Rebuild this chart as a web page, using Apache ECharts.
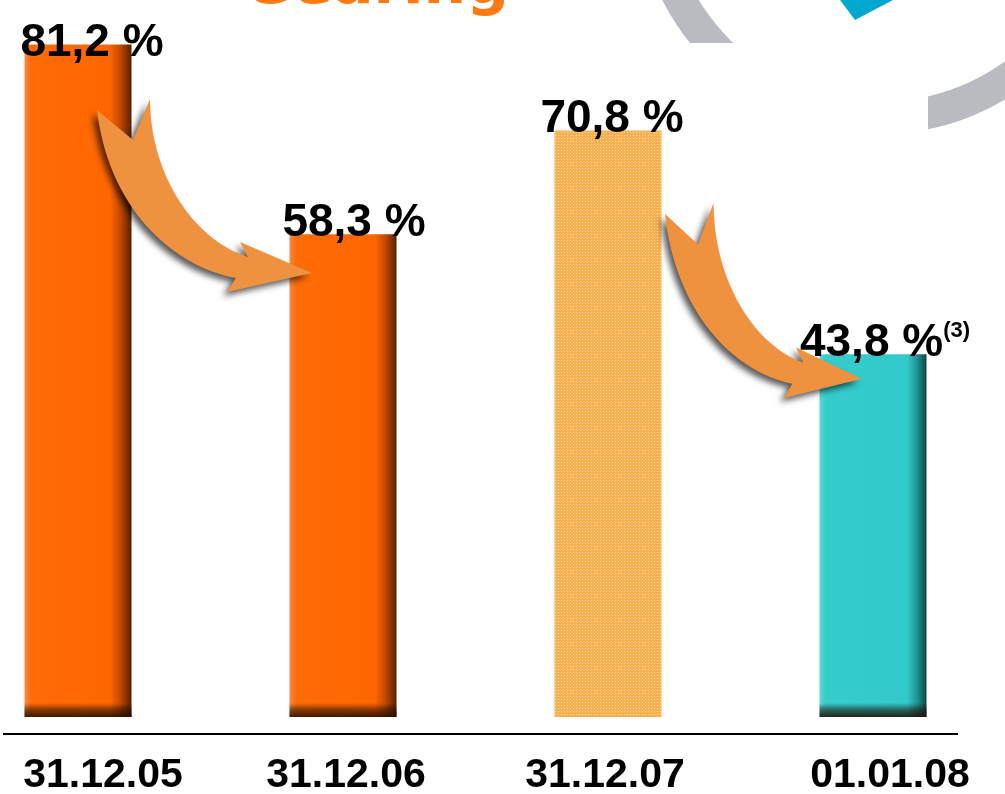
<!DOCTYPE html>
<html>
<head>
<meta charset="utf-8">
<script src="https://cdn.jsdelivr.net/npm/echarts@6/dist/echarts.min.js"></script>
<style>
  html, body { margin: 0; padding: 0; background: #fff; }
  #chart { width: 1005px; height: 794px; }
</style>
</head>
<body>
<div id="chart"></div>
<script>
// ---- data ----
const categories = ['31.12.05', '31.12.06', '31.12.07', '01.01.08'];
const gearing = [81.2, 58.3, 70.8, 43.8];
const notes = ['', '', '', '(3)'];
const titleText = 'Gearing';

// ---- styles ----
const FONT = '"Liberation Sans", Arial, sans-serif';
const orangeFill = new echarts.graphic.LinearGradient(0, 0, 1, 0, [
  { offset: 0, color: '#F88C4A' },
  { offset: 0.06, color: '#FF6B08' },
  { offset: 0.8, color: '#FF6600' },
  { offset: 0.9, color: '#C04800' },
  { offset: 1, color: '#552000' }
]);
const tealFill = new echarts.graphic.LinearGradient(0, 0, 1, 0, [
  { offset: 0, color: '#5ED8D8' },
  { offset: 0.06, color: '#35CCCC' },
  { offset: 0.82, color: '#31C9C9' },
  { offset: 0.92, color: '#1F8C8C' },
  { offset: 1, color: '#0E4545' }
]);
const patternStyle = {
  color: '#F9B04E',
  decal: {
    symbol: 'rect',
    symbolSize: 1,
    color: 'rgba(255,255,255,0.6)',
    dashArrayX: [1, 2],
    dashArrayY: [1, 2],
    rotation: 0
  }
};
const itemStyles = [
  { color: orangeFill },
  { color: orangeFill },
  patternStyle,
  { color: tealFill }
];
const labelOffsets = [[14, 10], [11, 0], [4, 0], [12, 0]];
const axisLabelPads = [[0, 0, 0, 50], [0, 0, 0, 6], [0, 6, 0, 0], [0, 0, 0, 34]];

function fmt(v) { return v.toFixed(1).replace('.', ',') + ' %'; }

const mainData = gearing.map((v, i) => ({
  value: v,
  itemStyle: itemStyles[i],
  label: { offset: labelOffsets[i] }
}));
const shadeData = gearing.map((v, i) => ({
  value: v,
  itemStyle: i === 2 ? { color: 'rgba(0,0,0,0)' } : {
    color: new echarts.graphic.LinearGradient(0, 703, 0, 717, [
      { offset: 0, color: 'rgba(30,10,0,0)' },
      { offset: 0.5, color: 'rgba(30,10,0,0.55)' },
      { offset: 1, color: 'rgba(30,10,0,0.85)' }
    ], true)
  }
}));

const arrowPath = 'M97 110 L133 140 L150 99 C150 170 190 238 248 257 L240 242 L312 273 L227 292 L236 278 C170 266 108 205 97 110 Z';
echarts.graphic.registerShape('curvedArrow', echarts.graphic.extendPath(arrowPath, {}));
const arrowStyle = {
  fill: '#EE9240',
  shadowBlur: 6,
  shadowColor: 'rgba(0,0,0,0.65)',
  shadowOffsetX: -4,
  shadowOffsetY: 4
};

const chart = echarts.init(document.getElementById('chart'), null, { renderer: 'canvas' });
chart.setOption({
  animation: false,
  backgroundColor: '#fff',
  grid: { left: -54.5, width: 1060, top: 13, bottom: 77, containLabel: false, outerBoundsMode: 'none' },
  xAxis: {
    type: 'category',
    z: 20,
    data: categories.map((c, i) => ({ value: c, textStyle: { padding: axisLabelPads[i] } })),
    axisLine: { show: false },
    axisTick: { show: false },
    axisLabel: {
      interval: 0,
      hideOverlap: false,
      margin: 38,
      fontFamily: FONT,
      fontWeight: 'bold',
      fontSize: 41,
      color: '#000'
    }
  },
  yAxis: {
    type: 'value',
    min: 0,
    max: 85,
    show: false,
    splitLine: { show: false }
  },
  graphic: [
    { type: 'ring', z: 0, shape: { cx: 880, cy: -110, r: 244, r0: 212 }, style: { fill: '#B9BBC1' } },
    { type: 'polygon', z: 0, shape: { points: [[840, 0], [893, 0], [855, 20]] }, style: { fill: '#00A8CF' } },
    { type: 'rect', z: 1, shape: { x: 0, y: 43, width: 928, height: 760 }, style: { fill: '#fff' } },
    { type: 'text', z: 10, x: 243, y: -43, style: {
        text: titleText, fill: '#FF7A10', font: 'bold 60px "DejaVu Sans", sans-serif'
    } },
    { type: 'line', z: 10, shape: { x1: 3, y1: 734, x2: 958, y2: 734 }, style: { stroke: '#000', lineWidth: 2 } },
    { type: 'curvedArrow', z: 100, style: arrowStyle },
    { type: 'curvedArrow', z: 100, originX: 97, originY: 99,
      scaleX: 0.916, scaleY: 1.01, x: 568, y: 104, style: arrowStyle }
  ],
  series: [
    {
      type: 'bar',
      barWidth: 107,
      data: mainData,
      z: 2,
      label: {
        show: true,
        position: 'top',
        distance: -12,
        formatter: p => notes[p.dataIndex]
          ? '{v|' + fmt(p.value) + '}{s|' + notes[p.dataIndex] + '}'
          : '{v|' + fmt(p.value) + '}',
        rich: {
          v: { fontFamily: FONT, fontWeight: 'bold', fontSize: 46, color: '#000' },
          s: { fontFamily: FONT, fontWeight: 'bold', fontSize: 22, color: '#000', verticalAlign: 'top', padding: [0, 0, 24, 0] }
        }
      }
    },
    {
      type: 'bar',
      barWidth: 107,
      barGap: '-100%',
      silent: true,
      z: 3,
      data: shadeData
    }
  ]
});
</script>
</body>
</html>
